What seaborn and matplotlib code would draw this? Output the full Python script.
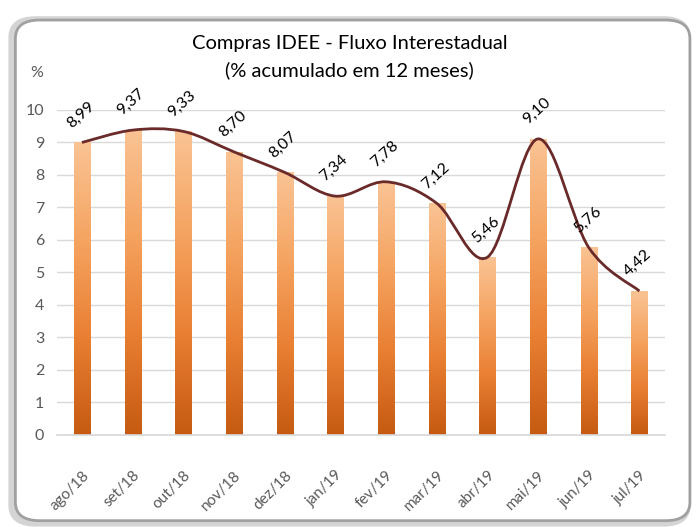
import numpy as np
import seaborn as sns
import matplotlib.pyplot as plt
from matplotlib.path import Path
from matplotlib.patches import PathPatch, FancyBboxPatch
from matplotlib.colors import LinearSegmentedColormap

# dados do grafico
meses = ["ago/18", "set/18", "out/18", "nov/18", "dez/18", "jan/19",
         "fev/19", "mar/19", "abr/19", "mai/19", "jun/19", "jul/19"]
valores = [8.99, 9.37, 9.33, 8.70, 8.07, 7.34, 7.78, 7.12, 5.46, 9.10, 5.76, 4.42]
rotulos = ["8,99", "9,37", "9,33", "8,70", "8,07", "7,34", "7,78", "7,12", "5,46", "9,10", "5,76", "4,42"]
yticks = list(range(0, 11))

sns.set_theme(style="white")
plt.rcParams['font.family'] = ['Lato', 'DejaVu Sans']

fig = plt.figure(figsize=(6.99, 5.27), dpi=100)
ax = fig.add_axes([0.081, 0.175, 0.870, 0.617])

# moldura arredondada com sombra
fig.patches.append(FancyBboxPatch((0.016, 0.006), 0.968, 0.958,
                                  boxstyle="round,pad=0,rounding_size=0.035",
                                  transform=fig.transFigure, facecolor='#d4d4d4',
                                  edgecolor='#d4d4d4', linewidth=4, zorder=-11))
fig.patches.append(FancyBboxPatch((0.022, 0.012), 0.965, 0.95,
                                  boxstyle="round,pad=0,rounding_size=0.035",
                                  transform=fig.transFigure, facecolor='white',
                                  edgecolor='#a0a0a0', linewidth=2, zorder=-10))

sns.barplot(x=meses, y=valores, ax=ax, width=0.32, color='#f4a460', zorder=2)

# gradiente nas barras
cmap = LinearSegmentedColormap.from_list('lar', ['#c55a11', '#e97f33', '#f5a461', '#fac394'])
grad = np.linspace(0, 1, 256).reshape(-1, 1)
for p in ax.patches:
    x0, w, h = p.get_x(), p.get_width(), p.get_height()
    p.set_facecolor('none')
    p.set_edgecolor('none')
    ax.imshow(grad, extent=[x0, x0 + w, 0, h], origin='lower', aspect='auto',
              cmap=cmap, zorder=2)

# linha suavizada (bezier estilo excel)
pts = np.column_stack([np.arange(len(valores)), valores])
verts = [tuple(pts[0])]
codes = [Path.MOVETO]
n = len(pts)
for i in range(n - 1):
    p0 = pts[max(i - 1, 0)]
    p1 = pts[i]
    p2 = pts[i + 1]
    p3 = pts[min(i + 2, n - 1)]
    c1 = p1 + (p2 - p0) / 6
    c2 = p2 - (p3 - p1) / 6
    verts += [tuple(c1), tuple(c2), tuple(p2)]
    codes += [Path.CURVE4] * 3
ax.add_patch(PathPatch(Path(verts, codes), facecolor='none', edgecolor='#6b2a2a',
                       linewidth=2, zorder=4))

for i, v in enumerate(valores):
    ax.annotate(rotulos[i], (i, v), xytext=(-1, 20), textcoords='offset points',
                ha='center', va='center', rotation=42, fontsize=11.5, color='black', zorder=5)

ax.set_xlim(-0.5, len(meses) - 0.5)
ax.set_ylim(0, 10)
ax.set_yticks(yticks)
ax.grid(axis='y', color='#d9d9d9', linewidth=1)
ax.set_axisbelow(True)
for s in ['top', 'right', 'left']:
    ax.spines[s].set_visible(False)
ax.spines['bottom'].set_color('#d9d9d9')
ax.tick_params(axis='y', length=0, labelsize=11.5, labelcolor='#595959', pad=9)
ax.tick_params(axis='x', length=0, labelsize=11, labelcolor='#595959', pad=24)
ax.set_xticks(np.arange(-0.5, len(meses)), minor=True)
ax.tick_params(axis='x', which='minor', length=6, color='#d9d9d9', direction='out')
plt.setp(ax.get_xticklabels(), rotation=45, ha='right', rotation_mode='anchor')
ax.set_xlabel('')
ax.set_ylabel('')

fig.text(0.5, 0.918, "Compras IDEE - Fluxo Interestadual", ha='center', va='center',
         fontsize=14.5, color='black')
fig.text(0.5, 0.867, "(% acumulado em 12 meses)", ha='center', va='center',
         fontsize=14.5, color='black')
fig.text(0.052, 0.862, "%", ha='center', va='center', fontsize=11.5, color='#595959')

fig.savefig('out.png', dpi=100)
